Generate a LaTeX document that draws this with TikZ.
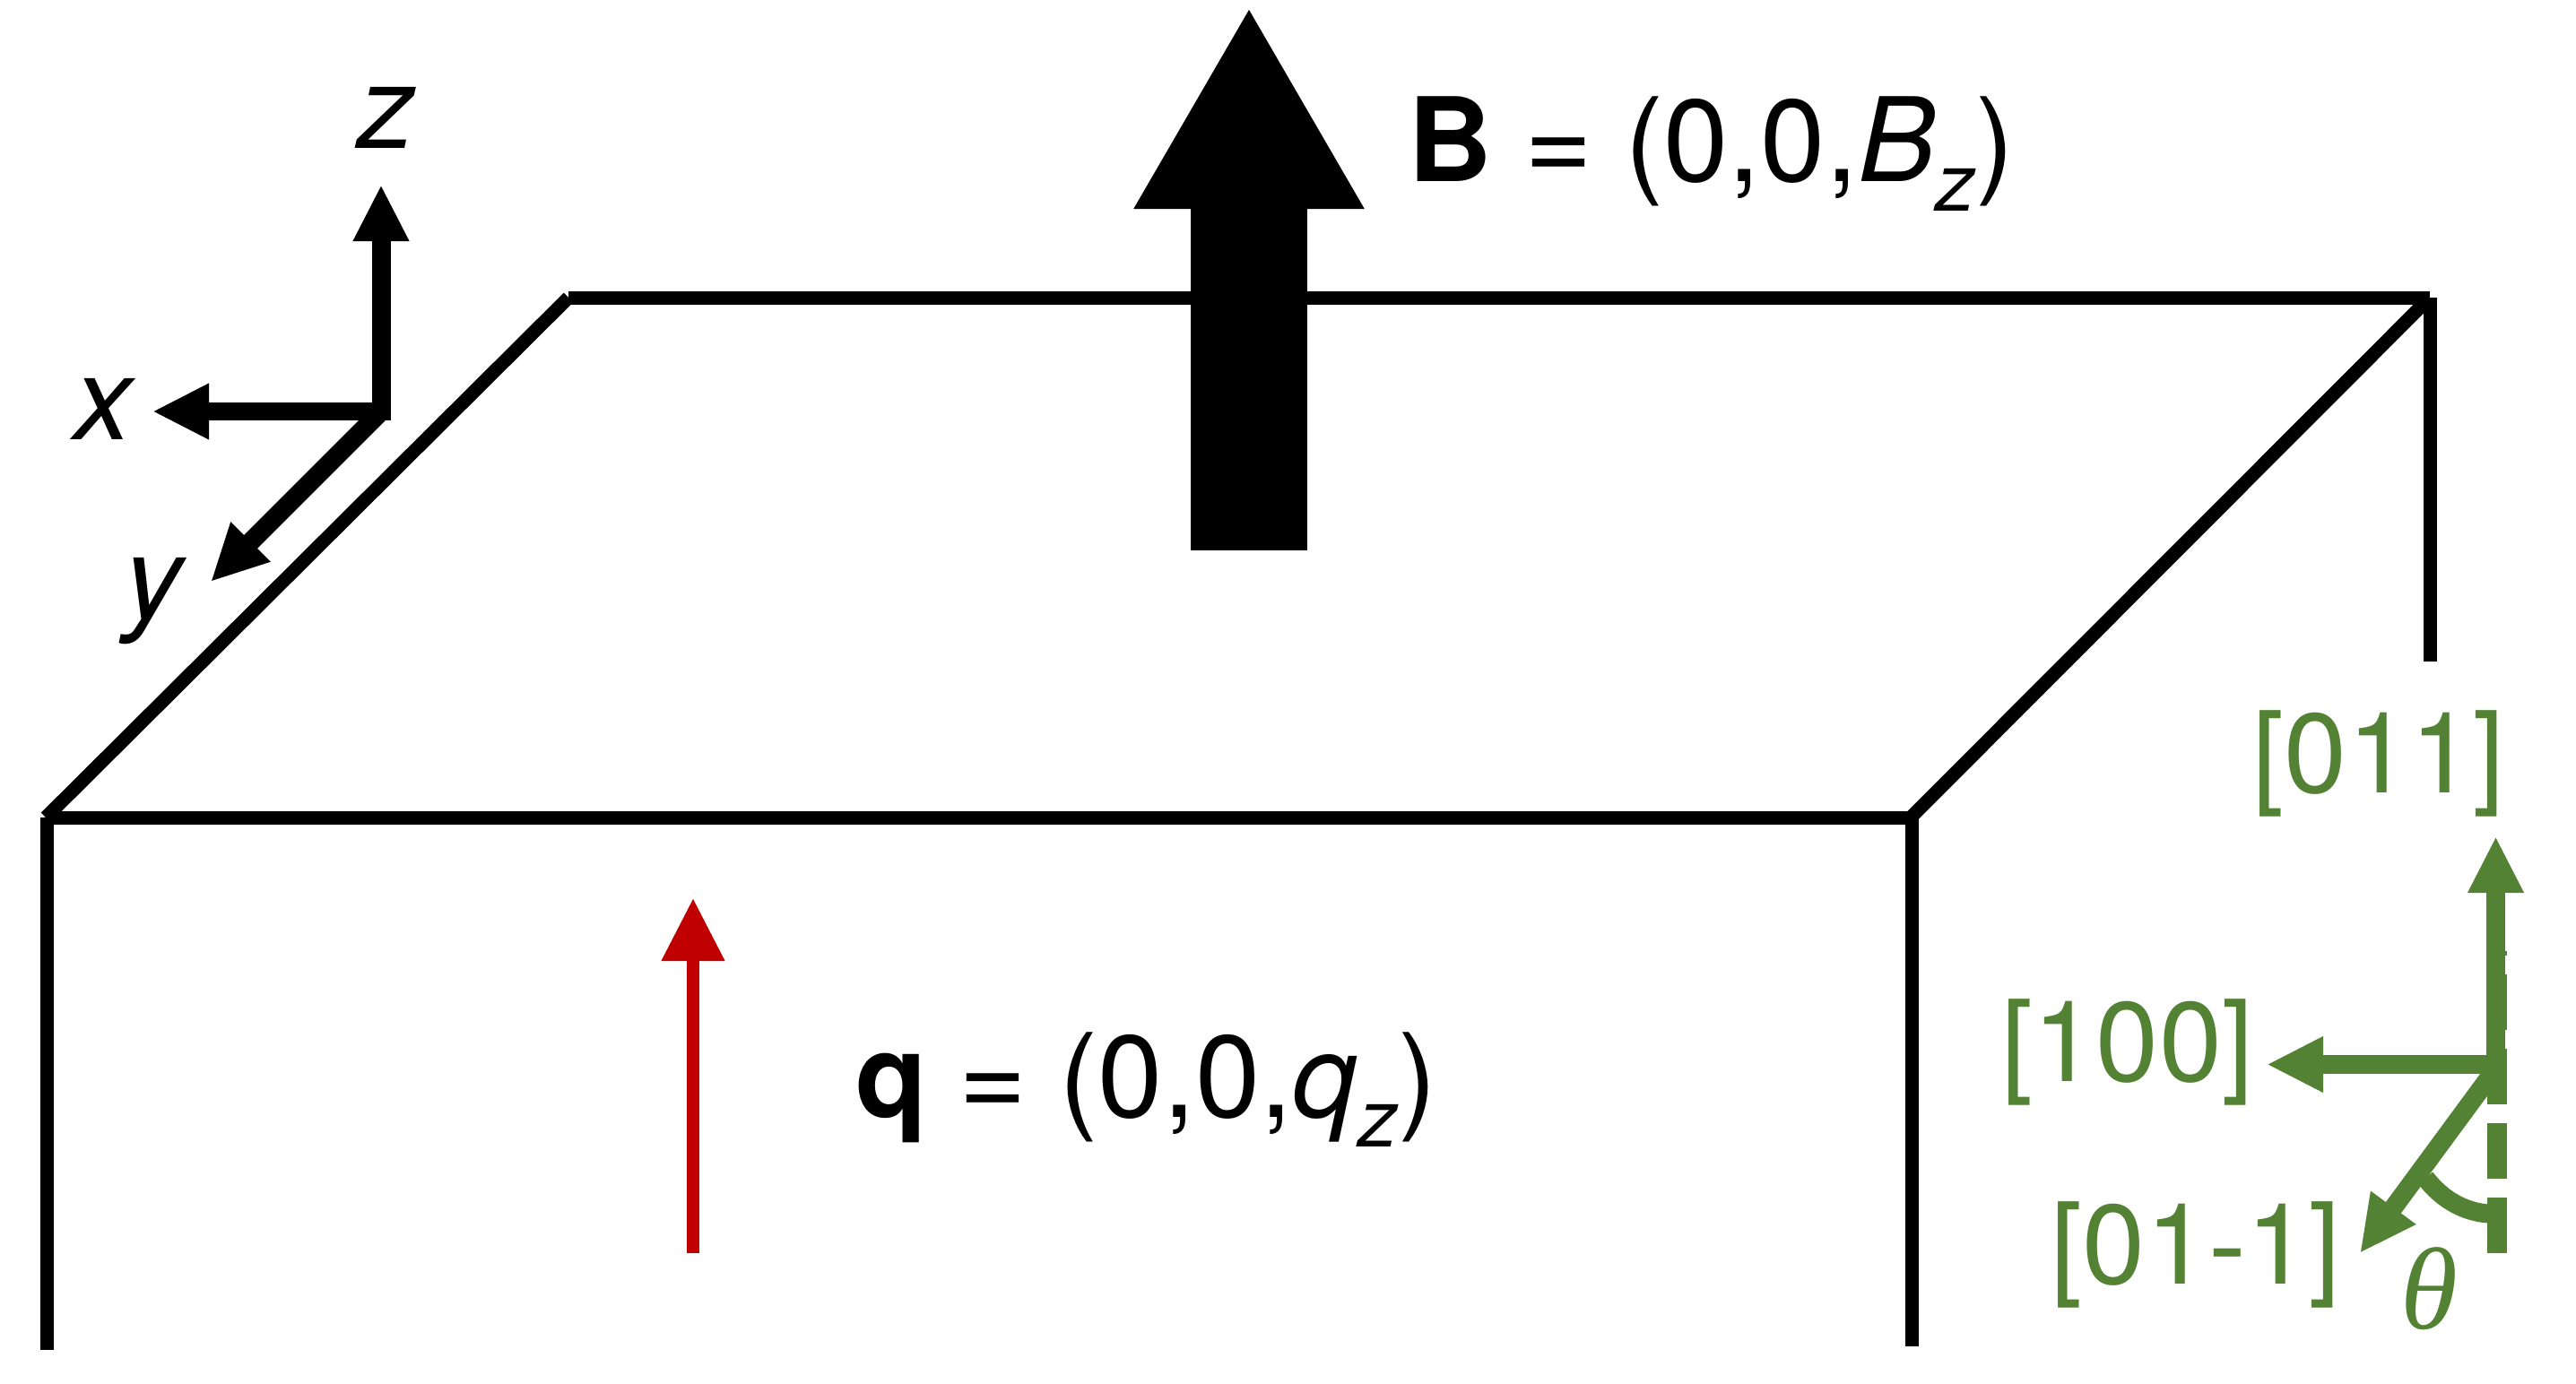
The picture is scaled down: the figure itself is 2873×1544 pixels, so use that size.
\documentclass[tikz,border=0pt]{standalone}
\usepackage{fontspec}
\setmainfont{TeX Gyre Heros}
\newfontfamily\thetafont{Liberation Serif}
\usetikzlibrary{arrows.meta}
\definecolor{grn}{HTML}{548235}
\definecolor{rd}{HTML}{C00000}
\tikzset{
 edgeline/.style={line width=15pt,black},
 txt/.style={inner sep=0pt,outer sep=0pt,anchor=base,font=\fontsize{130}{130}\selectfont},
 gtxt/.style={txt,text=grn,font=\fontsize{126}{126}\selectfont},
 axis/.style={line width=21pt,-{Triangle[length=63pt,width=58pt]}},
 gaxis/.style={axis,grn},
 xaxis/.style={line width=20pt,-{Triangle[length=63pt,width=58pt]}},
}
\begin{document}
\begin{tikzpicture}[x=1pt,y=-1pt]
\useasboundingbox (0,0) rectangle (2873,1544);
% box
\coordinate (bl) at (634,332);\coordinate (br) at (2710,332);
\coordinate (fl) at (51,912);\coordinate (fr) at (2131,912);
\coordinate (flb) at (52,1506);\coordinate (frb) at (2132,1502);\coordinate (brb) at (2710,738);
\draw[edgeline] (fl) -- (bl);
\draw[edgeline] (bl) -- (br);
\draw[edgeline] (fr) -- (br);
\draw[edgeline] (fl) -- (fr);
\draw[edgeline] (52,912) -- (flb);
\draw[edgeline] (2132,912) -- (frb);
\draw[edgeline] (br) -- (brb);
% B arrow
\coordinate (Bs) at (1393,614);\coordinate (Bt) at (1393,7);
\draw[line width=130pt,-{Triangle[length=226pt,width=240pt]}] (Bs) -- (Bt);
% q arrow
\coordinate (qs) at (773,1398);\coordinate (qt) at (773,1002);
\draw[rd,line width=14pt,-{Triangle[length=70pt,width=67pt]}] (qs) -- (qt);
% xyz
\coordinate (o) at (425,459);\coordinate (zt) at (425,206);\coordinate (xt) at (170,459);\coordinate (yt) at (235,649);
\draw[axis] (o) -- (yt);
\draw[xaxis] (436,459) -- (xt);
\draw[axis] (425,460) -- (zt);
\node[txt,font=\fontsize{130}{130}\selectfont\itshape] (zl) at (431,166) {z};
\node[txt,font=\fontsize{130}{130}\selectfont\itshape] (xl) at (115,490) {x};
\node[txt,font=\fontsize{130}{130}\selectfont\itshape] (yl) at (171,690) {y};
% labels
\node[txt,anchor=base west] (Bl) at (1570,202) {\textbf{B} = (0,0,\textit{B}\raisebox{-33pt}{\fontsize{90}{90}\selectfont\itshape z})};
\node[txt,anchor=base west] (ql) at (954,1246) {\textbf{q} = (0,0,\textit{q}\raisebox{-33pt}{\fontsize{90}{90}\selectfont\itshape z})};
% green
\coordinate (g0) at (2785,1190);
\coordinate (gda) at (2785,1398);\coordinate (gdb) at (2785,1061);
\draw[grn,line width=22pt,dash pattern=on 62pt off 21pt] (gda) -- (gdb);
\draw[gaxis] (2783.5,1198) -- (2783.5,933);
\draw[gaxis] (2794,1187.5) -- (2528,1187.5);
\draw[gaxis] (g0) -- (2632,1398);
\coordinate (aa) at (2705,1314);\coordinate (ab) at (2775,1354);
\draw[grn,line width=21pt] (aa) .. controls (2725,1340) and (2750,1352) .. (ab);
\node[gtxt] (l011) at (2653,884) {[011]};
\node[gtxt] (l100) at (2373,1206) {[100]};
\node[gtxt] (l011m) at (2449,1432.5) {[01-1]};
\node[gtxt,font=\fontsize{130}{130}\selectfont\thetafont\itshape] (th) at (2709,1482) {θ};
\end{tikzpicture}
\end{document}
